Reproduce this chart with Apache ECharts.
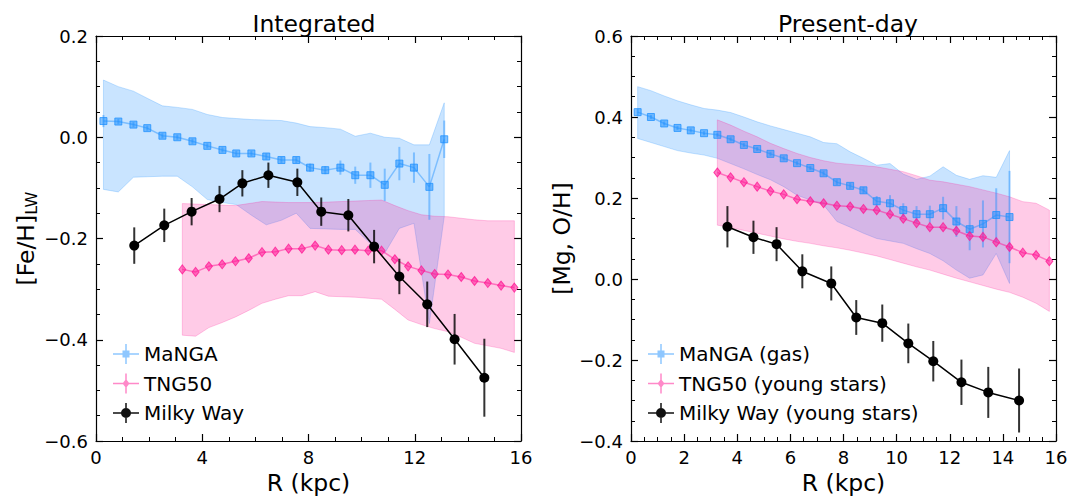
<!DOCTYPE html>
<html><head><meta charset="utf-8">
<script src="https://cdn.jsdelivr.net/npm/echarts@6/dist/echarts.min.js"></script>
<style>html,body{margin:0;padding:0;background:#fff}#c{width:1080px;height:504px}</style>
</head><body><div id="c"></div>
<script>
// ---------- Left panel: Integrated [Fe/H]_LW ----------
const mangaIntR  = [0.28,0.84,1.41,1.93,2.50,3.06,3.63,4.19,4.76,5.28,5.85,6.41,6.98,7.54,8.06,8.63,9.20,9.76,10.33,10.87,11.42,11.97,12.55,13.11];
const mangaFe    = [0.032,0.031,0.025,0.018,0.003,0.000,-0.008,-0.017,-0.025,-0.032,-0.032,-0.038,-0.045,-0.045,-0.060,-0.065,-0.060,-0.075,-0.075,-0.094,-0.052,-0.060,-0.098,-0.004];
const mangaFeErr = [0.012,0.005,0.005,0.005,0.005,0.005,0.005,0.005,0.005,0.005,0.005,0.006,0.006,0.006,0.008,0.008,0.014,0.017,0.025,0.032,0.033,0.030,0.065,0.037];
const mangaFeHi  = [0.113,0.100,0.091,0.077,0.062,0.059,0.055,0.045,0.039,0.037,0.035,0.034,0.033,0.028,0.021,0.019,0.016,0.002,0.008,0.000,-0.002,-0.015,-0.015,0.068];
const mangaFeLo  = [-0.103,-0.108,-0.079,-0.078,-0.077,-0.077,-0.098,-0.123,-0.129,-0.133,-0.154,-0.173,-0.164,-0.150,-0.180,-0.181,-0.182,-0.182,-0.210,-0.229,-0.180,-0.170,-0.368,-0.157];

const tngR       = [3.25,3.75,4.25,4.75,5.25,5.75,6.25,6.75,7.25,7.75,8.25,8.75,9.25,9.75,10.25,10.75,11.25,11.75,12.25,12.75,13.25,13.75,14.25,14.75,15.25,15.75];
const tngFe      = [-0.261,-0.266,-0.255,-0.251,-0.245,-0.239,-0.227,-0.226,-0.220,-0.220,-0.214,-0.222,-0.223,-0.222,-0.224,-0.224,-0.241,-0.255,-0.263,-0.270,-0.271,-0.276,-0.284,-0.288,-0.293,-0.297];
const tngFeHi    = [-0.131,-0.132,-0.133,-0.134,-0.135,-0.131,-0.127,-0.128,-0.129,-0.129,-0.129,-0.128,-0.127,-0.126,-0.125,-0.124,-0.135,-0.145,-0.153,-0.156,-0.157,-0.160,-0.163,-0.165,-0.165,-0.165];
const tngFeLo    = [-0.391,-0.393,-0.376,-0.366,-0.355,-0.342,-0.328,-0.320,-0.313,-0.313,-0.305,-0.314,-0.315,-0.316,-0.318,-0.320,-0.340,-0.361,-0.370,-0.378,-0.384,-0.395,-0.407,-0.412,-0.417,-0.425];

const mwR        = [1.44,2.57,3.60,4.65,5.51,6.49,7.58,8.48,9.50,10.47,11.42,12.47,13.50,14.62];
const mwFe       = [-0.214,-0.174,-0.147,-0.122,-0.091,-0.075,-0.089,-0.147,-0.154,-0.216,-0.275,-0.330,-0.399,-0.475];
const mwFeErr    = [0.036,0.033,0.027,0.026,0.026,0.025,0.027,0.028,0.032,0.033,0.035,0.045,0.050,0.077];

// ---------- Right panel: Present-day [Mg, O/H] ----------
const mangaGasR  = [0.25,0.75,1.25,1.75,2.25,2.75,3.25,3.75,4.25,4.75,5.25,5.75,6.25,6.75,7.25,7.75,8.25,8.75,9.25,9.75,10.25,10.75,11.25,11.75,12.25,12.75,13.25,13.75,14.25];
const mangaOH    = [0.412,0.400,0.384,0.373,0.367,0.360,0.356,0.345,0.331,0.321,0.309,0.298,0.286,0.274,0.261,0.239,0.230,0.219,0.192,0.187,0.170,0.160,0.160,0.175,0.142,0.123,0.136,0.158,0.153];
const mangaOHErr = [0.008,0.005,0.005,0.005,0.005,0.005,0.005,0.005,0.005,0.005,0.005,0.005,0.005,0.005,0.006,0.007,0.007,0.008,0.013,0.020,0.017,0.020,0.021,0.028,0.038,0.052,0.058,0.066,0.114];
const mangaOHHi  = [0.475,0.465,0.452,0.440,0.430,0.421,0.417,0.411,0.400,0.388,0.378,0.369,0.360,0.351,0.337,0.334,0.314,0.298,0.281,0.285,0.259,0.246,0.254,0.277,0.256,0.246,0.255,0.251,0.317];
const mangaOHLo  = [0.347,0.337,0.327,0.317,0.311,0.306,0.298,0.285,0.272,0.258,0.245,0.228,0.207,0.195,0.183,0.142,0.128,0.113,0.100,0.094,0.088,0.075,0.063,0.045,0.022,0.002,0.010,0.063,-0.011];

const tngYoungR  = [3.25,3.75,4.25,4.75,5.25,5.75,6.25,6.75,7.25,7.75,8.25,8.75,9.25,9.75,10.25,10.75,11.25,11.75,12.25,12.75,13.25,13.75,14.25,14.75,15.25,15.75];
const tngMg      = [0.263,0.251,0.239,0.228,0.217,0.209,0.197,0.192,0.187,0.181,0.179,0.173,0.170,0.160,0.149,0.138,0.128,0.128,0.119,0.106,0.104,0.091,0.079,0.065,0.059,0.044];
const tngMgHi    = [0.393,0.380,0.365,0.351,0.335,0.322,0.310,0.300,0.292,0.286,0.283,0.280,0.277,0.271,0.265,0.255,0.244,0.240,0.234,0.228,0.220,0.212,0.203,0.191,0.187,0.170];
const tngMgLo    = [0.133,0.127,0.120,0.113,0.106,0.099,0.093,0.088,0.082,0.077,0.071,0.064,0.057,0.048,0.039,0.030,0.022,0.012,0.002,-0.007,-0.016,-0.025,-0.033,-0.045,-0.060,-0.080];

const mwYoungR   = [3.63,4.61,5.48,6.45,7.54,8.48,9.46,10.44,11.38,12.44,13.45,14.61];
const mwMg       = [0.129,0.103,0.086,0.019,-0.011,-0.095,-0.109,-0.159,-0.203,-0.255,-0.280,-0.300];
const mwMgErr    = [0.051,0.041,0.042,0.042,0.042,0.043,0.046,0.049,0.050,0.056,0.063,0.079];

// ---------- Tick labels ----------
const leftXTicks  = [0,4,8,12,16];
const rightXTicks = [0,2,4,6,8,10,12,14,16];
const leftYTicks  = [-0.6,-0.4,-0.2,0.0,0.2];
const rightYTicks = [-0.4,-0.2,0.0,0.2,0.4,0.6];

const FONT = 'DejaVu Sans';
const BLUE = '30,144,255', PINK = '255,20,147';
const chart = echarts.init(document.getElementById('c'), null, {renderer: 'svg'});

function pairs(xs, ys) { return xs.map((x, i) => [x, ys[i]]); }
function band(xs, lo, hi, color, gi) {
  return {
    type: 'custom', xAxisIndex: gi * 2, yAxisIndex: gi * 2, silent: true, clip: true, z: 1,
    data: [[xs[0], lo[0]]],
    renderItem: (p, api) => {
      const top = xs.map((x, i) => api.coord([x, hi[i]]));
      const bot = xs.map((x, i) => api.coord([x, lo[i]])).reverse();
      return { type: 'polygon', shape: { points: top.concat(bot) },
               style: { fill: color, stroke: color, lineWidth: 1 } };
    }
  };
}
function errbars(xs, ys, es, color, width, gi, z) {
  return {
    type: 'custom', xAxisIndex: gi * 2, yAxisIndex: gi * 2, silent: true, z: z,
    data: xs.map((x, i) => [x, ys[i], es[i]]),
    renderItem: (p, api) => {
      const x = api.value(0), y = api.value(1), e = api.value(2);
      const a = api.coord([x, y - e]), b = api.coord([x, y + e]);
      return { type: 'line', shape: { x1: a[0], y1: a[1], x2: b[0], y2: b[1] },
               style: { stroke: color, lineWidth: width } };
    }
  };
}
function mangaLine(name, xs, ys, gi) {
  return { type: 'line', name, xAxisIndex: gi * 2, yAxisIndex: gi * 2, z: 3,
    data: pairs(xs, ys), symbol: 'rect', symbolSize: 7,
    lineStyle: { color: `rgba(${BLUE},0.45)`, width: 1.5 },
    itemStyle: { color: `rgba(${BLUE},0.55)`, borderColor: `rgba(${BLUE},0.75)`, borderWidth: 1 } };
}
function tngLine(name, xs, ys, gi) {
  return { type: 'line', name, xAxisIndex: gi * 2, yAxisIndex: gi * 2, z: 4,
    data: pairs(xs, ys), symbol: 'diamond', symbolSize: [7, 9],
    lineStyle: { color: `rgba(${PINK},0.5)`, width: 1.5 },
    itemStyle: { color: `rgba(${PINK},0.55)`, borderColor: `rgba(${PINK},0.75)`, borderWidth: 1 } };
}
function mwLine(name, xs, ys, gi) {
  return { type: 'line', name, xAxisIndex: gi * 2, yAxisIndex: gi * 2, z: 6,
    data: pairs(xs, ys), symbol: 'circle', symbolSize: 10,
    lineStyle: { color: '#000', width: 1.5 }, itemStyle: { color: '#000' } };
}

function fmtY(v) { if (Math.abs(v) < 1e-9) return '0.0'; return (v < 0 ? '\u2212' : '') + Math.abs(v).toFixed(1); }
function xAx(gi, pos, ticks, show) {
  const interval = ticks[1] - ticks[0];
  return {
    type: 'value', gridIndex: gi, position: pos, min: ticks[0], max: ticks[ticks.length - 1], interval,
    axisLine: { onZero: false, lineStyle: { color: '#000', width: 1.2 } },
    axisTick: { inside: true, length: 7, lineStyle: { color: '#000', width: 1.2 } },
    minorTick: { show: true, splitNumber: 4, length: 4, lineStyle: { color: '#000', width: 1 } },
    axisLabel: { show, color: '#000', fontSize: 18, fontFamily: FONT, margin: 7, showMinLabel: true, showMaxLabel: true },
    splitLine: { show: false },
    name: show ? 'R (kpc)' : '', nameLocation: 'middle', nameGap: 26,
    nameTextStyle: { fontSize: 23.5, color: '#000', fontFamily: FONT }
  };
}
function yAx(gi, pos, ticks, show, name) {
  const interval = +(ticks[1] - ticks[0]).toFixed(6);
  return {
    type: 'value', gridIndex: gi, position: pos, min: ticks[0], max: ticks[ticks.length - 1], interval,
    axisLine: { onZero: false, lineStyle: { color: '#000', width: 1.2 } },
    axisTick: { inside: true, length: 7, lineStyle: { color: '#000', width: 1.2 } },
    minorTick: { show: true, splitNumber: 4, length: 4, lineStyle: { color: '#000', width: 1 } },
    axisLabel: { show, color: '#000', fontSize: 18, fontFamily: FONT, margin: 8, formatter: fmtY, showMinLabel: true, showMaxLabel: true },
    splitLine: { show: false },
    name: show ? name : '', nameLocation: 'middle', nameGap: 57, nameRotate: 90,
    nameTextStyle: { fontSize: 23.5, color: '#000', fontFamily: FONT,
      rich: { sub: { fontSize: 16, verticalAlign: 'bottom', padding: [10, 0, 0, 0], fontFamily: FONT, color: '#000' } } }
  };
}

const ICON_LINES = 'M0 9.25 H26 V10.75 H0 Z M12.25 0 H13.75 V20 H12.25 Z ';
const ICON_SQ = 'path://' + ICON_LINES + 'M9.5 6.5 H16.5 V13.5 H9.5 Z';
const ICON_DI = 'path://' + ICON_LINES + 'M13 5.5 L16.5 10 L13 14.5 L9.5 10 Z';
const ICON_CI = 'path://' + ICON_LINES + 'M8 10 A5 5 0 1 1 18 10 A5 5 0 1 1 8 10 Z';

function legend(left, names) {
  return {
    orient: 'vertical', left, top: 339, itemWidth: 26, itemHeight: 20, itemGap: 9.5,
    selectedMode: false,
    textStyle: { fontSize: 20, lineHeight: 20, color: '#000', fontFamily: FONT },
    data: [
      { name: names[0], icon: ICON_SQ, itemStyle: { color: `rgba(${BLUE},0.5)`, borderWidth: 0 } },
      { name: names[1], icon: ICON_DI, itemStyle: { color: `rgba(${PINK},0.5)`, borderWidth: 0 } },
      { name: names[2], icon: ICON_CI, itemStyle: { color: '#111', borderWidth: 0 } }
    ]
  };
}

chart.setOption({
  animation: false,
  textStyle: { fontFamily: FONT },
  title: [
    { text: 'Integrated', left: 309, top: 7, textAlign: 'center', textStyle: { fontSize: 23.5, fontWeight: 'normal', color: '#000', fontFamily: FONT } },
    { text: 'Present-day', left: 843, top: 7, textAlign: 'center', textStyle: { fontSize: 23.5, fontWeight: 'normal', color: '#000', fontFamily: FONT } }
  ],
  grid: [
    { left: 96, top: 36, width: 425, height: 405 },
    { left: 631, top: 36, width: 425, height: 405 }
  ],
  xAxis: [ xAx(0, 'bottom', leftXTicks, true), xAx(0, 'top', leftXTicks, false),
           xAx(1, 'bottom', rightXTicks, true), xAx(1, 'top', rightXTicks, false) ],
  yAxis: [ yAx(0, 'left', leftYTicks, true, '[Fe/H]{sub|LW}'), yAx(0, 'right', leftYTicks, false, ''),
           yAx(1, 'left', rightYTicks, true, '[Mg, O/H]'), yAx(1, 'right', rightYTicks, false, '') ],
  legend: [ legend(108, ['MaNGA', 'TNG50', 'Milky Way']),
            legend(643, ['MaNGA (gas)', 'TNG50 (young stars)', 'Milky Way (young stars)']) ],
  series: [
    band(mangaIntR, mangaFeLo, mangaFeHi, `rgba(${BLUE},0.24)`, 0),
    band(tngR, tngFeLo, tngFeHi, `rgba(${PINK},0.22)`, 0),
    errbars(mangaIntR, mangaFe, mangaFeErr, `rgba(${BLUE},0.45)`, 2, 0, 3),
    mangaLine('MaNGA', mangaIntR, mangaFe, 0),
    tngLine('TNG50', tngR, tngFe, 0),
    errbars(mwR, mwFe, mwFeErr, 'rgba(0,0,0,0.8)', 2, 0, 5),
    mwLine('Milky Way', mwR, mwFe, 0),

    band(mangaGasR, mangaOHLo, mangaOHHi, `rgba(${BLUE},0.24)`, 1),
    band(tngYoungR, tngMgLo, tngMgHi, `rgba(${PINK},0.22)`, 1),
    errbars(mangaGasR, mangaOH, mangaOHErr, `rgba(${BLUE},0.45)`, 2, 1, 3),
    mangaLine('MaNGA (gas)', mangaGasR, mangaOH, 1),
    tngLine('TNG50 (young stars)', tngYoungR, tngMg, 1),
    errbars(mwYoungR, mwMg, mwMgErr, 'rgba(0,0,0,0.8)', 2, 1, 5),
    mwLine('Milky Way (young stars)', mwYoungR, mwMg, 1)
  ]
});
</script></body></html>
